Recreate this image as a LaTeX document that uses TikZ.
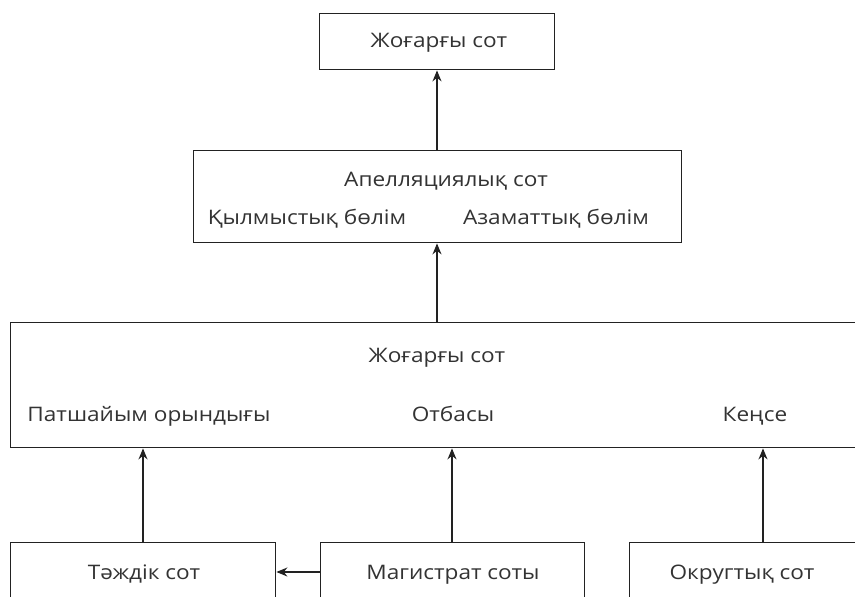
\documentclass[tikz,border=0pt]{standalone}
\usepackage{fontspec}
\setmainfont{Open Sans}[FakeStretch=1.13]
\usetikzlibrary{arrows.meta}
\definecolor{ink}{HTML}{222222}
\definecolor{txt}{HTML}{333333}
\tikzset{
  box/.style={draw=ink, line width=1.4pt, rectangle, inner sep=0pt, anchor=north west},
  lbl/.style={text=txt, font=\fontsize{20}{24}\selectfont, inner sep=0pt, anchor=base},
  conn/.style={draw=ink, line width=1.4pt, -{Stealth[length=11pt,width=9pt]}}
}
\begin{document}
\begin{tikzpicture}[x=1pt,y=-1pt]
\useasboundingbox (0,0) rectangle (855,597);
\clip (0,0) rectangle (855,597);
% boxes
\node[box, minimum width=235pt, minimum height=56pt] (top) at (319,13) {};
\node[box, minimum width=488pt, minimum height=92pt] (app) at (193,150) {};
\node[box, minimum width=870pt, minimum height=125pt] (high) at (10,322) {};
\node[box, minimum width=265pt, minimum height=80pt] (crown) at (10,542) {};
\node[box, minimum width=264pt, minimum height=80pt] (mag) at (320,542) {};
\node[box, minimum width=260pt, minimum height=80pt] (county) at (629,542) {};
% texts
\node[lbl] (ttop) at (439,47) {Жоғарғы сот};
\node[lbl] (tapp) at (446,186) {Апелляциялық сот};
\node[lbl] (tcrim) at (307,224) {Қылмыстық бөлім};
\node[lbl] (tciv) at (556,224) {Азаматтық бөлім};
\node[lbl] (thigh) at (437,362) {Жоғарғы сот};
\node[lbl] (tqb) at (149,421) {Патшайым орындығы};
\node[lbl] (tfam) at (453,421) {Отбасы};
\node[lbl] (tch) at (755,421) {Кеңсе};
\node[lbl] (tcrown) at (144,579) {Тәждік сот};
\node[lbl] (tmag) at (453,579) {Магистрат соты};
\node[lbl] (tcounty) at (742,579) {Округтық сот};
% connectors
\draw[conn] (437,150) coordinate (a1) -- (a1 |- top.south);
\draw[conn] (437,322) coordinate (a2) -- (a2 |- app.south);
\draw[conn] (crown.north -| 143,0) coordinate (b1) -- (b1 |- high.south);
\draw[conn] (mag.north -| 452,0) coordinate (b2) -- (b2 |- high.south);
\draw[conn] (county.north -| 763,0) coordinate (b3) -- (b3 |- high.south);
\draw[conn] (mag.west |- 0,572) coordinate (c1) -- (c1 -| crown.east);
\end{tikzpicture}
\end{document}
